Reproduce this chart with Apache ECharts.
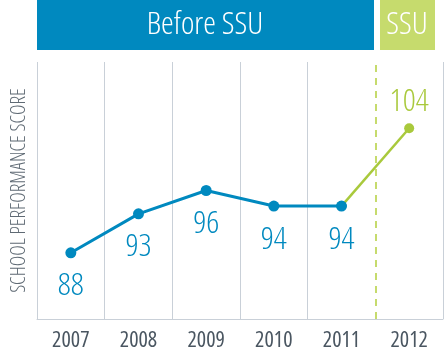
<!DOCTYPE html>
<html><head><meta charset="utf-8">
<script src="https://cdn.jsdelivr.net/npm/echarts@6/dist/echarts.min.js"></script>
<style>html,body{margin:0;padding:0;background:#fff}#c{width:445px;height:352px}</style>
</head><body><div id="c"></div>
<script>
var years = ['2007','2008','2009','2010','2011','2012'];
var beforeScores = [88, 93, 96, 94, 94, null];
var ssuScores = [null, null, null, null, 94, 104];
var yAxisTitle = 'SCHOOL PERFORMANCE SCORE';
var headerBefore = 'Before SSU';
var headerSSU = 'SSU';

var FAM = '"Open Sans", sans-serif';
var BLUE = '#0089bf', GREEN = '#a9c93c', LIGHTGREEN = '#c6db6d', GRID = '#c9d0d8';

var chart = echarts.init(document.getElementById('c'), null, {renderer:'canvas'});
chart.setOption({
  animation:false,
  grid:{left:37, right:2, top:62, bottom:31},
  xAxis:[{type:'category', data:years, boundaryGap:true,
    axisLine:{show:true, lineStyle:{color:GRID, width:1}},
    axisTick:{show:false},
    axisLabel:{color:'#4a5661', fontFamily:FAM, fontStyle:'condensed', fontWeight:400, fontSize:22, margin:11},
    splitLine:{show:true, lineStyle:{color:[GRID,GRID,GRID,GRID,GRID,'rgba(0,0,0,0)',GRID], width:1}}
  },{type:'value', min:0, max:years.length, show:false}],
  yAxis:{type:'value', min:79.5, max:112.5,
    axisLine:{show:false}, axisTick:{show:false}, axisLabel:{show:false}, splitLine:{show:false},
    name:yAxisTitle, nameLocation:'middle', nameRotate:90, nameGap:8,
    nameTextStyle:{color:'#5f6a74', fontFamily:FAM, fontStyle:'semi-condensed', fontWeight:300, fontSize:20}
  },
  graphic:[
    {type:'rect', shape:{x:37,y:0,width:337,height:50}, style:{fill:BLUE}},
    {type:'rect', shape:{x:380,y:0,width:55,height:50}, style:{fill:LIGHTGREEN}},
    {type:'text', x:205, y:25, style:{text:headerBefore, fill:'#fff', font:'condensed 300 32px "Open Sans"', textAlign:'center', textVerticalAlign:'middle'}},
    {type:'text', x:407, y:25, style:{text:headerSSU, fill:'#fff', font:'condensed 300 32px "Open Sans"', textAlign:'center', textVerticalAlign:'middle'}}
  ],
  series:[
    {type:'line', xAxisIndex:1, data:[], silent:true,
      markLine:{silent:true, symbol:['none','none'], label:{show:false},
        lineStyle:{color:LIGHTGREEN, type:[7,6], width:2}, data:[{xAxis:5}]}
    },
    {type:'line', z:1, data:ssuScores, symbol:'circle', symbolSize:10,
      lineStyle:{color:GREEN, width:2.5}, itemStyle:{color:GREEN},
      label:{show:true, position:'top', distance:5, color:GREEN, fontFamily:FAM, fontStyle:'condensed', fontWeight:300, fontSize:32,
        formatter:function(p){return p.dataIndex===years.length-1 ? String(p.value) : '';}}
    },
    {type:'line', z:2, data:beforeScores, symbol:'circle', symbolSize:11,
      lineStyle:{color:BLUE, width:3}, itemStyle:{color:BLUE},
      label:{show:true, position:'bottom', distance:12, color:BLUE, fontFamily:FAM, fontStyle:'condensed', fontWeight:300, fontSize:32}
    }
  ]
});
</script></body></html>
